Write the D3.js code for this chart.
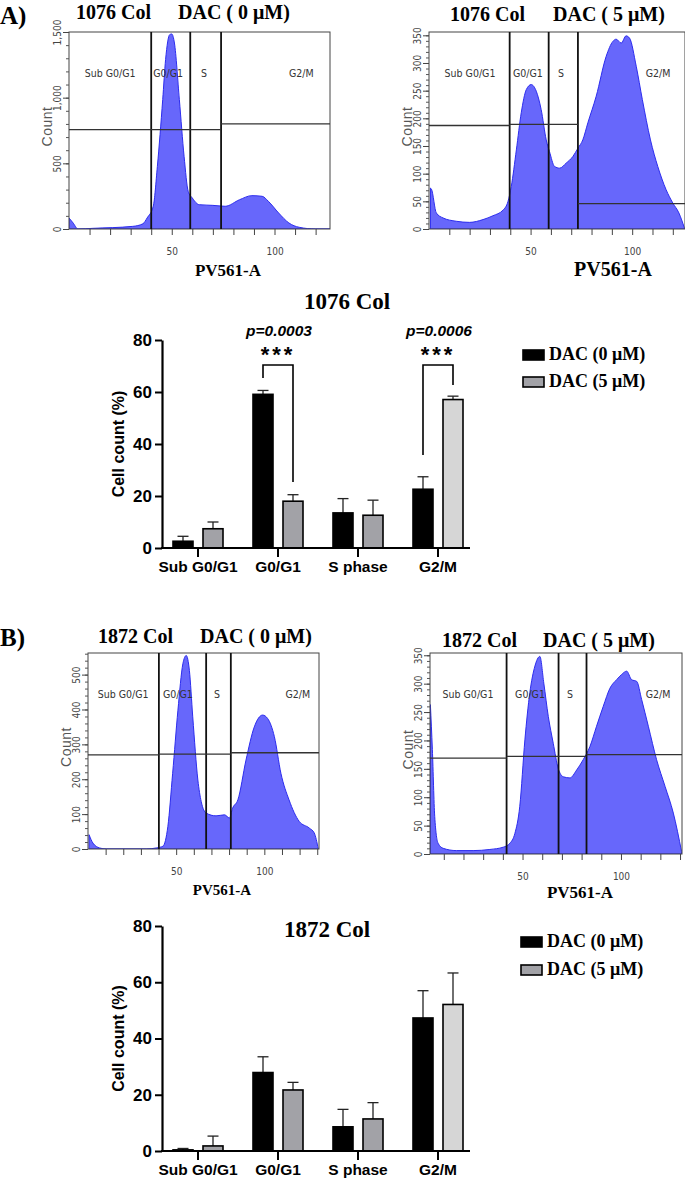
<!DOCTYPE html>
<html><head><meta charset="utf-8">
<script src="https://cdn.jsdelivr.net/npm/d3@7"></script>
<style>body{margin:0;background:#fff}</style>
</head><body>
<svg id="c" width="685" height="1183"></svg>
<script>
// ---------- DATA ----------
// flow cytometry histograms: [PV561-A, Count]
const histA0 = [[0,84],[2,46],[4.4,0],[11.6,5],[31,20],[36,40],[38,84],[41,173],[43,477],[45.6,985],[47,1290],[49,1480],[50,1485],[51.3,1416],[53.7,985],[56,553],[58,287],[60,236],[63.4,185],[70,180],[76,173],[83,223],[89,254],[94,249],[97,211],[102,122],[107,46],[112,13],[120,0],[127,0]];
const histA5 = [[0.7,74],[1.2,72],[3.6,29],[6.9,20],[13.4,14],[20,12],[26.6,17],[31.5,24],[36.4,34],[38.9,50],[40.5,77],[43,143],[45.4,210],[47.9,252],[50.3,261],[52.8,249],[55.2,216],[57.7,161],[59.3,140],[61.8,113],[64.3,110],[67.5,119],[70.8,131],[73.3,146],[75.7,161],[78.2,192],[82.3,240],[87.2,312],[90.5,339],[92.1,343],[94.6,336],[97,349],[98.7,345],[102,294],[105,234],[109,161],[112.6,113],[116.7,71],[120,47],[123,29],[125.7,2]];
const histB0 = [[0.6,41],[2.8,17],[6.6,3],[10.4,0],[33,0],[38.7,3],[42.5,8],[45.3,65],[48,217],[51,398],[53.8,531],[55.7,555],[57.5,512],[59.4,379],[62.3,198],[64.2,136],[67,103],[72.6,95],[77.4,98],[80.2,89],[82,117],[85,141],[89.6,255],[94.3,350],[99,384],[101.9,374],[105.7,322],[109.4,217],[114,141],[119.8,79],[125.5,60],[128.3,46],[130.6,0]];
const histB5 = [[3.2,263],[4.2,184],[5.4,66],[7.1,19],[9.7,10],[16.4,6],[24.9,6],[33.4,8],[40.2,12],[43.6,19],[46.1,36],[48.6,84],[51.2,201],[53.7,284],[56.3,331],[58.8,348],[60.8,301],[63.1,242],[65.6,195],[68.1,151],[70.7,136],[74.1,134],[77.5,148],[80.8,166],[84.2,189],[87.6,225],[91,260],[94.4,292],[97.8,307],[100.3,316],[102.9,322],[105.4,307],[108,304],[110.5,272],[113.9,225],[118.1,166],[122.4,119],[126.6,72],[130.8,4]];
// gates (vertical, PV561-A) and horizontal gate segments [from, to, count]
const gatesA0 = [40, 59, 74];
const hGatesA0 = [[0,74,756],[74,127,800]];
const gatesA5 = [39.7, 58.9, 73.3];
const hGatesA5 = [[0,39.7,187],[39.7,73.3,189],[73.3,126,46]];
const gatesB0 = [40.2, 67, 81];
const hGatesB0 = [[0,40.2,270],[40.2,81,272],[81,131,276]];
const gatesB5 = [41.9, 68.3, 82.5];
const hGatesB5 = [[3,41.9,169],[41.9,82.5,172],[82.5,131,175]];
const regionNames = ["Sub G0/G1","G0/G1","S","G2/M"];
const regionXA0 = [20, 48.2, 65.7, 113];
const regionXA5 = [20.2, 48.7, 65, 112.7];
const regionXB0 = [19.9, 51, 73.2, 119];
const regionXB5 = [22.3, 53.8, 74.1, 118.8];
const yTicksA0 = [0,500,1000,1500];
const yTicksA5 = [0,50,100,150,200,250,300,350];
const yTicksB0 = [0,100,200,300,400,500];
const yTicksB5 = [0,50,100,150,200,250,300,350];
const xTickLabels = [50,100];

// bar charts
const categories = ["Sub G0/G1","G0/G1","S phase","G2/M"];
const seriesNames = ["DAC (0 μM)","DAC (5 μM)"];
const meanA_0 = [2.6, 59.1, 13.5, 22.6];
const errA_0  = [1.9, 1.5, 5.5, 4.8];
const meanA_5 = [7.4, 18.0, 12.6, 57.1];
const errA_5  = [2.6, 2.5, 5.8, 1.3];
const meanB_0 = [0.4, 27.9, 8.6, 47.3];
const errB_0  = [0.5, 5.6, 6.2, 9.7];
const meanB_5 = [1.8, 21.7, 11.4, 52.1];
const errB_5  = [3.5, 2.7, 5.8, 11.2];
const barYTicks = [0,20,40,60,80];
const sigCats = ["G0/G1","G2/M"];
const sigP = ["p=0.0003","p=0.0006"];
const sigStars = ["***","***"];
const sigTop = [70.4, 70.4];
const sigLeftEnd = [65.4, 35.8];
const sigRightEnd = [25.4, 62.7];

// ---------- DRAW ----------
const svg = d3.select("#c");
svg.append("rect").attr("width",685).attr("height",1183).attr("fill","#fff");
const serif = "'Liberation Serif','Times New Roman',serif";
const sans = "'Liberation Sans',Arial,sans-serif";
const narrow = "'Liberation Sans Narrow','DejaVu Sans Condensed','Liberation Sans',sans-serif";

function drawHist(c, id) {
  const g = svg.append("g");
  const x = d3.scaleLinear().domain(c.xDomain).range([c.left, c.right]);
  const y = d3.scaleLinear().domain([0, c.yMax]).range([c.bottom, c.top]);
  g.append("clipPath").attr("id", id).append("rect")
    .attr("x", c.left).attr("y", c.top).attr("width", c.right - c.left).attr("height", c.bottom - c.top);
  const area = d3.area().x(d => x(d[0])).y0(y(0)).y1(d => y(d[1])).curve(d3.curveMonotoneX);
  g.append("path").datum(c.data).attr("clip-path", `url(#${id})`).attr("d", area)
    .attr("fill", "#6767fb").attr("stroke", "#2c2cee").attr("stroke-width", 1);
  g.append("rect").attr("x", c.left).attr("y", c.top).attr("width", c.right - c.left).attr("height", c.bottom - c.top)
    .attr("fill", "none").attr("stroke", "#444").attr("stroke-width", 1);
  g.selectAll(".vg").data(c.gates).join("line").attr("class","vg")
    .attr("x1", d => x(d)).attr("x2", d => x(d)).attr("y1", c.top).attr("y2", c.bottom)
    .attr("stroke", "#111").attr("stroke-width", 1.8);
  g.selectAll(".hg").data(c.hSegs).join("line").attr("class","hg")
    .attr("x1", d => x(d[0])).attr("x2", d => x(d[1])).attr("y1", d => y(d[2])).attr("y2", d => y(d[2]))
    .attr("stroke", "#333").attr("stroke-width", 1.3);
  g.selectAll(".rl").data(regionNames).join("text").attr("class","rl")
    .attr("x", (d,i) => x(c.regionX[i])).attr("y", c.top + 45).attr("text-anchor","middle")
    .style("font-family", narrow).style("font-size","10.5px").attr("fill","#333").text(d => d);
  // y axis
  const yMinor = g.append("g").attr("transform", `translate(${c.left},0)`)
    .call(d3.axisLeft(y).tickValues(d3.range(0, c.yMax + 0.01, c.yMinor)).tickSize(3).tickFormat(""));
  yMinor.select(".domain").remove();
  yMinor.selectAll("line").attr("stroke","#555");
  const ya = g.append("g").attr("transform", `translate(${c.left},0)`)
    .call(d3.axisLeft(y).tickValues(c.yTicks).tickSize(6).tickFormat(c.yFmt));
  ya.select(".domain").remove();
  ya.selectAll("line").attr("stroke","#444");
  ya.selectAll("text").attr("x", 0).attr("y", -8).attr("dy", 0).attr("transform", "rotate(-90)")
    .attr("text-anchor","middle").attr("fill","#444").style("font-family", narrow).style("font-size","10px");
  // x axis
  const xa = g.append("g").attr("transform", `translate(0,${c.bottom})`)
    .call(d3.axisBottom(x).tickValues(d3.range(10, c.xDomain[1], 10)).tickSize(6)
      .tickFormat(d => xTickLabels.includes(d) ? d : ""));
  xa.select(".domain").remove();
  xa.selectAll("line").attr("stroke","#444");
  xa.selectAll("text").attr("y", 26).attr("dy", 0).attr("fill","#444")
    .style("font-family", narrow).style("font-size","10px");
  // labels
  g.append("text").attr("transform", `translate(${c.left - 17},${(c.top + c.bottom) / 2 - 4}) rotate(-90)`)
    .attr("text-anchor","middle").attr("fill","#555").style("font-family", sans).style("font-size","14px")
    .style("letter-spacing","0.5px").text("Count");
  g.append("text").attr("x", c.pvX).attr("y", c.pvY).attr("text-anchor","middle")
    .style("font-family", serif).style("font-weight","bold").style("font-size", c.pvSize + "px").text("PV561-A");
  g.append("text").attr("x", c.t1x).attr("y", c.tY)
    .style("font-family", serif).style("font-weight","bold").style("font-size","20px").text(c.title1);
  g.append("text").attr("x", c.t2x).attr("y", c.tY)
    .style("font-family", serif).style("font-weight","bold").style("font-size","20px").text(c.title2);
}

const commaFmt = d3.format(",");
drawHist({data: histA0, xDomain:[0,127], yMax:1500, left:69, right:330, top:32, bottom:229,
  yTicks: yTicksA0, yFmt: commaFmt, yMinor: 100, gates: gatesA0, hSegs: hGatesA0, regionX: regionXA0,
  title1:"1076 Col", title2:"DAC ( 0 μM)", t1x:76, t2x:178, tY:19, pvX:228, pvY:276, pvSize:17}, "cA0");
drawHist({data: histA5, xDomain:[0,126], yMax:356, left:429, right:685, top:32, bottom:229,
  yTicks: yTicksA5, yFmt: d => d, yMinor: 10, gates: gatesA5, hSegs: hGatesA5, regionX: regionXA5,
  title1:"1076 Col", title2:"DAC ( 5 μM)", t1x:450, t2x:553, tY:21, pvX:613, pvY:276, pvSize:20}, "cA5");
drawHist({data: histB0, xDomain:[0,131], yMax:562, left:88, right:319, top:653, bottom:849,
  yTicks: yTicksB0, yFmt: d => d, yMinor: 20, gates: gatesB0, hSegs: hGatesB0, regionX: regionXB0,
  title1:"1872 Col", title2:"DAC ( 0 μM)", t1x:98, t2x:200, tY:643, pvX:222, pvY:895, pvSize:15}, "cB0");
drawHist({data: histB5, xDomain:[3,131], yMax:354, left:430, right:682, top:653, bottom:854,
  yTicks: yTicksB5, yFmt: d => d, yMinor: 10, gates: gatesB5, hSegs: hGatesB5, regionX: regionXB5,
  title1:"1872 Col", title2:"DAC ( 5 μM)", t1x:442, t2x:543, tY:647, pvX:580, pvY:898, pvSize:17}, "cB5");

// panel letters
svg.append("text").attr("x",0).attr("y",24).style("font-family",serif).style("font-weight","bold").style("font-size","25px").text("A)");
svg.append("text").attr("x",0).attr("y",646).style("font-family",serif).style("font-weight","bold").style("font-size","25px").text("B)");

function drawBars(c) {
  const g = svg.append("g");
  const x = d3.scaleBand().domain(categories).range([158, 478]);
  const xs = d3.scaleBand().domain([0, 1]).range([-25, 25]).paddingInner(1/3);
  const y = d3.scaleLinear().domain([0, 80]).range([c.bottom, c.top]);
  const rows = [];
  categories.forEach((cat, i) => {
    rows.push({cat, s:0, v:c.m0[i], e:c.e0[i]});
    rows.push({cat, s:1, v:c.m5[i], e:c.e5[i]});
  });
  const cx = d => x(d.cat) + x.bandwidth() / 2 + xs(d.s) + xs.bandwidth() / 2;
  g.selectAll(".eb").data(rows).join("line").attr("class","eb")
    .attr("x1", cx).attr("x2", cx).attr("y1", d => y(d.v)).attr("y2", d => y(d.v + d.e))
    .attr("stroke","#222").attr("stroke-width",1.3);
  g.selectAll(".ec").data(rows).join("line").attr("class","ec")
    .attr("x1", d => cx(d) - 5.5).attr("x2", d => cx(d) + 5.5).attr("y1", d => y(d.v + d.e)).attr("y2", d => y(d.v + d.e))
    .attr("stroke","#222").attr("stroke-width",1.3);
  g.selectAll(".bar").data(rows).join("rect").attr("class","bar")
    .attr("x", d => x(d.cat) + x.bandwidth() / 2 + xs(d.s)).attr("width", xs.bandwidth())
    .attr("y", d => y(d.v)).attr("height", d => y(0) - y(d.v))
    .attr("fill", d => d.s === 0 ? "#000" : (d.cat === "G2/M" ? "#d6d6d6" : "#a2a2a7"))
    .attr("stroke","#000").attr("stroke-width",1.6);
  // y axis
  const ya = g.append("g").attr("transform","translate(162,0)")
    .call(d3.axisLeft(y).tickValues(barYTicks).tickSize(7).tickSizeOuter(0).tickPadding(3));
  ya.select(".domain").attr("stroke-width",2.2);
  ya.selectAll("line").attr("stroke-width",2);
  ya.selectAll("text").style("font-family",sans).style("font-weight","bold").style("font-size","17px").attr("fill","#000");
  // x axis
  const xa = g.append("g").attr("transform",`translate(0,${y(0)})`)
    .call(d3.axisBottom(x).tickSize(9).tickSizeOuter(0));
  xa.select(".domain").remove();
  xa.selectAll("line").attr("stroke-width",2);
  xa.selectAll("text").attr("y",24).attr("dy",0).style("font-family",sans).style("font-weight","bold").style("font-size","15.5px").attr("fill","#000");
  g.append("line").attr("x1",161).attr("x2",470).attr("y1",y(0)).attr("y2",y(0)).attr("stroke","#000").attr("stroke-width",2.2);
  // y label
  g.append("text").attr("transform",`translate(124,${(c.top + c.bottom) / 2}) rotate(-90)`).attr("text-anchor","middle")
    .style("font-family",sans).style("font-weight","bold").style("font-size","16px").text("Cell count (%)");
  // title
  g.append("text").attr("x", c.titleX).attr("y", c.titleY).attr("text-anchor","middle")
    .style("font-family",serif).style("font-weight","bold").style("font-size","23px").text(c.title);
  // significance
  if (c.sig) {
    sigCats.forEach((cat, i) => {
      const xl = x(cat) + x.bandwidth() / 2 + xs(0) + xs.bandwidth() / 2;
      const xr = x(cat) + x.bandwidth() / 2 + xs(1) + xs.bandwidth() / 2;
      g.append("path").attr("d", `M${xl},${y(sigLeftEnd[i])}V${y(sigTop[i])}H${xr}V${y(sigRightEnd[i])}`)
        .attr("fill","none").attr("stroke","#000").attr("stroke-width",1.6);
      const xc = x(cat) + x.bandwidth() / 2;
      g.append("text").attr("x", xc).attr("y", 362).attr("text-anchor","middle")
        .style("font-family",sans).style("font-weight","bold").style("font-size","22px").style("letter-spacing","3px").text(sigStars[i]);
      g.append("text").attr("x", xc + 1).attr("y", 336).attr("text-anchor","middle")
        .style("font-family",sans).style("font-weight","bold").style("font-style","italic").style("font-size","15.5px").text(sigP[i]);
    });
  }
  // legend
  const lg = g.append("g");
  seriesNames.forEach((s, i) => {
    const yy = c.legY + i * c.legStep;
    lg.append("rect").attr("x", c.legX).attr("y", yy - 10).attr("width", 21).attr("height", 10)
      .attr("fill", i === 0 ? "#000" : "#a2a2a7").attr("stroke","#000").attr("stroke-width",1.6);
    lg.append("text").attr("x", c.legX + 26).attr("y", yy)
      .style("font-family",serif).style("font-weight","bold").style("font-size","18px").text(s);
  });
}

drawBars({m0: meanA_0, e0: errA_0, m5: meanA_5, e5: errA_5, top:340, bottom:548,
  title:"1076 Col", titleX:347, titleY:309, sig:true, legX:523, legY:360, legStep:27});
drawBars({m0: meanB_0, e0: errB_0, m5: meanB_5, e5: errB_5, top:926, bottom:1151,
  title:"1872 Col", titleX:327, titleY:937, sig:false, legX:521, legY:947, legStep:28});
</script>
</body></html>
